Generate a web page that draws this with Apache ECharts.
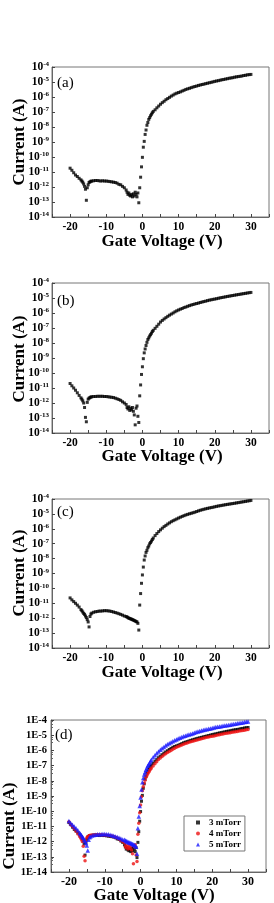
<!DOCTYPE html>
<html><head><meta charset="utf-8">
<script src="https://cdn.jsdelivr.net/npm/echarts@6/dist/echarts.min.js"></script>
<style>html,body{margin:0;padding:0;background:#fff}#c{width:274px;height:903px}</style>
</head><body><div id="c"></div>
<script>
const gateVoltage = [
-20,-19.5,-19,-18.5,-18,-17.5,-17,
-16.75,-16.5,-16.25,-16,-15.75,-15.5,-15.25,-15,-14.75,-14.5,-14.25,-14,
-13.5,-13,-12.5,-12,-11.5,-11,-10.5,-10,-9.5,-9,-8.5,-8,-7.5,-7,-6.5,-6,-5.5,-5,-4.5,
-4.25,-4,-3.75,-3.5,-3.25,-3,-2.75,-2.5,-2.25,-2,-1.75,-1.5,-1.25,-1,-0.75,-0.5,-0.25,0,0.25,0.5,0.75,1,1.25,1.5,1.75,2,2.25,2.5,2.75,3,
3.5,4,4.5,5,5.5,6,6.5,7,7.5,8,8.5,9,9.5,10,10.5,11,11.5,12,12.5,13,13.5,14,14.5,15,15.5,16,16.5,17,17.5,18,18.5,19,19.5,20,20.5,21,21.5,22,22.5,23,23.5,24,24.5,25,25.5,26,26.5,27,27.5,28,28.5,29,29.5,30
];
const current3mTorr = [
1.8e-11,1.3e-11,8.9e-12,6.3e-12,5.0e-12,3.8e-12,3.0e-12,
2.5e-12,2.1e-12,1.6e-12,1.1e-12,7.1e-13,1.3e-13,8.9e-13,1.4e-12,2.0e-12,2.2e-12,2.4e-12,2.5e-12,
2.6e-12,2.7e-12,2.7e-12,2.6e-12,2.5e-12,2.6e-12,2.5e-12,2.5e-12,2.4e-12,2.3e-12,2.2e-12,2.1e-12,2.0e-12,1.8e-12,1.5e-12,1.4e-12,1.1e-12,8.9e-13,6.3e-13,
4.5e-13,3.2e-13,4.0e-13,2.8e-13,2.5e-13,3.2e-13,2.2e-13,3.5e-13,2.5e-13,4.5e-13,3.2e-13,2.2e-13,4.0e-13,8.9e-14,8.9e-13,4.5e-12,2.2e-11,9.5e-11,4.5e-10,1.1e-9,3.2e-9,6.3e-9,1.3e-8,2.0e-8,3.2e-8,4.2e-8,5.6e-8,7.1e-8,8.9e-8,1.1e-7,
1.4e-7,1.9e-7,2.5e-7,3.3e-7,4.2e-7,5.2e-7,6.6e-7,7.9e-7,9.5e-7,1.15e-6,1.35e-6,1.6e-6,1.8e-6,2.0e-6,2.2e-6,2.5e-6,2.8e-6,3.2e-6,3.5e-6,3.8e-6,4.2e-6,4.6e-6,5.0e-6,5.4e-6,5.9e-6,6.3e-6,6.8e-6,7.2e-6,7.8e-6,8.3e-6,8.9e-6,9.5e-6,1.02e-5,1.1e-5,1.17e-5,1.23e-5,1.32e-5,1.41e-5,1.48e-5,1.58e-5,1.66e-5,1.78e-5,1.86e-5,1.95e-5,2.1e-5,2.2e-5,2.3e-5,2.4e-5,2.5e-5,2.7e-5,2.8e-5,3.0e-5,3.1e-5,3.2e-5
];
const current4mTorr = [
2.0e-11,1.4e-11,1.0e-11,7.1e-12,4.8e-12,3.2e-12,2.2e-12,
1.8e-12,1.4e-12,1.0e-12,5.0e-13,1.1e-13,5.6e-14,1.1e-12,1.8e-12,2.1e-12,2.3e-12,2.5e-12,2.6e-12,
2.7e-12,2.7e-12,2.8e-12,2.8e-12,2.8e-12,2.8e-12,2.7e-12,2.7e-12,2.6e-12,2.5e-12,2.4e-12,2.3e-12,2.1e-12,1.9e-12,1.7e-12,1.5e-12,1.2e-12,1.0e-12,8.0e-13,
5.0e-13,4.0e-13,5.6e-13,3.2e-13,4.5e-13,3.5e-13,5.0e-13,2.8e-13,1.6e-13,3.5e-14,4.5e-13,6.3e-13,1.3e-13,5.0e-14,3.0e-12,1.6e-11,8.0e-11,2.6e-10,9.0e-10,2.2e-9,4.0e-9,6.8e-9,1.1e-8,1.7e-8,2.2e-8,2.9e-8,3.6e-8,4.5e-8,5.8e-8,7.0e-8,
9.5e-8,1.3e-7,1.8e-7,2.5e-7,3.2e-7,4.0e-7,4.9e-7,6.0e-7,7.2e-7,8.5e-7,1.0e-6,1.2e-6,1.4e-6,1.6e-6,1.8e-6,2.0e-6,2.3e-6,2.5e-6,2.8e-6,3.1e-6,3.4e-6,3.7e-6,4.0e-6,4.3e-6,4.6e-6,5.0e-6,5.4e-6,5.8e-6,6.2e-6,6.7e-6,7.2e-6,7.6e-6,8.1e-6,8.5e-6,9.0e-6,9.6e-6,1.02e-5,1.08e-5,1.14e-5,1.2e-5,1.27e-5,1.33e-5,1.4e-5,1.47e-5,1.55e-5,1.62e-5,1.7e-5,1.78e-5,1.87e-5,1.96e-5,2.05e-5,2.15e-5,2.25e-5,2.35e-5
];
const current5mTorr = [
2.3e-11,1.7e-11,1.3e-11,1.0e-11,7.6e-12,5.6e-12,3.8e-12,
3.2e-12,2.6e-12,2.1e-12,1.8e-12,1.4e-12,1.1e-12,8.0e-13,5.6e-13,2.6e-13,1.3e-12,1.9e-12,2.2e-12,
2.5e-12,2.7e-12,2.8e-12,3.0e-12,3.0e-12,3.1e-12,3.2e-12,3.2e-12,3.1e-12,3.0e-12,2.8e-12,2.6e-12,2.4e-12,2.2e-12,2.0e-12,1.8e-12,1.6e-12,1.4e-12,1.3e-12,
1.2e-12,1.1e-12,1.0e-12,9.5e-13,9.0e-13,8.5e-13,8.0e-13,7.5e-13,7.0e-13,6.5e-13,6.0e-13,5.6e-13,4.5e-13,1.6e-13,7.6e-12,4.5e-11,2.2e-10,8.0e-10,2.7e-9,8.0e-9,1.5e-8,2.6e-8,3.6e-8,5.4e-8,7.0e-8,9.8e-8,1.2e-7,1.5e-7,1.9e-7,2.4e-7,
3.5e-7,4.8e-7,6.5e-7,8.5e-7,1.1e-6,1.4e-6,1.7e-6,2.1e-6,2.5e-6,3.0e-6,3.5e-6,4.0e-6,4.6e-6,5.3e-6,6.0e-6,6.8e-6,7.6e-6,8.5e-6,9.3e-6,1.02e-5,1.1e-5,1.2e-5,1.3e-5,1.45e-5,1.6e-5,1.75e-5,1.9e-5,2.05e-5,2.2e-5,2.35e-5,2.5e-5,2.65e-5,2.8e-5,3.0e-5,3.2e-5,3.4e-5,3.55e-5,3.75e-5,3.95e-5,4.15e-5,4.35e-5,4.55e-5,4.75e-5,4.95e-5,5.2e-5,5.45e-5,5.7e-5,6.0e-5,6.3e-5,6.6e-5,6.9e-5,7.3e-5,7.6e-5,8.0e-5
];
const seriesNames = ['3 mTorr', '4 mTorr', '5 mTorr'];
const panelLabels = ['(a)', '(b)', '(c)', '(d)'];
const xTitle = 'Gate Voltage (V)';
const yTitle = 'Current (A)';

const FONT = '"Liberation Serif", "Times New Roman", serif';
const panelData = [current3mTorr, current4mTorr, current5mTorr];
const toPairs = arr => gateVoltage.map((v, i) => [v, arr[i]]);

const grids = [
  {left: 52, top: 67, width: 217, height: 150},
  {left: 52, top: 283, width: 217, height: 150},
  {left: 52, top: 499, width: 217, height: 149},
  {left: 51, top: 720, width: 215, height: 152}
];

const xAxes = grids.map((g, i) => ({
  type: 'value', gridIndex: i, min: -25, max: 35, interval: 5,
  axisLine: {show: true, onZero: false, lineStyle: {color: '#666', width: 1}},
  axisTick: {show: true, inside: true, length: 3, lineStyle: {color: '#444'}},
  splitLine: {show: false},
  axisLabel: {
    margin: 4, color: '#000', fontFamily: FONT, fontWeight: 'bold', fontSize: i === 3 ? 12 : 11.5,
    formatter: v => (v % 10 === 0 ? String(v) : '')
  }
}));

const yAxes = grids.map((g, i) => ({
  type: 'log', logBase: 10, gridIndex: i, min: 1e-14, max: 1e-4, splitNumber: 10, interval: 1,
  axisLine: {show: true, onZero: false, lineStyle: {color: '#666', width: 1}},
  axisTick: {show: true, inside: true, length: 3, interval: 0, lineStyle: {color: '#444'}},
  minorTick: {show: i === 3, splitNumber: 4, length: 2, lineStyle: {color: '#666'}},
  splitLine: {show: false},
  axisLabel: i === 3 ? {
    interval: 0, hideOverlap: false,
    margin: 4, color: '#000', fontFamily: FONT, fontWeight: 'bold', fontSize: 10.5,
    formatter: v => '1E' + Math.round(Math.log10(v))
  } : {
    interval: 0, hideOverlap: false,
    margin: 3, color: '#000', fontFamily: FONT, fontWeight: 'bold', fontSize: 11,
    formatter: v => '{b|10}{s|' + Math.round(Math.log10(v)) + '}',
    rich: {
      b: {fontFamily: FONT, fontWeight: 'bold', fontSize: 11.5, lineHeight: 12, color: '#000'},
      s: {fontFamily: FONT, fontWeight: 'bold', fontSize: 7, lineHeight: 8, verticalAlign: 'top', color: '#000'}
    }
  }
}));

const series = [];
panelData.forEach((arr, i) => {
  series.push({
    type: 'scatter', name: 'panel' + i, xAxisIndex: i, yAxisIndex: i,
    data: toPairs(arr), symbol: 'rect', symbolSize: 3,
    itemStyle: {color: '#000'}, silent: true
  });
});
const dStyles = [
  {symbol: 'rect', symbolSize: 3, color: '#000'},
  {symbol: 'circle', symbolSize: 3.5, color: '#ee1111'},
  {symbol: 'triangle', symbolSize: 4.5, color: '#1a1aff'}
];
panelData.forEach((arr, k) => {
  series.push({
    type: 'scatter', name: seriesNames[k], xAxisIndex: 3, yAxisIndex: 3,
    data: toPairs(arr), symbol: dStyles[k].symbol, symbolSize: dStyles[k].symbolSize,
    itemStyle: {color: dStyles[k].color}, silent: true
  });
});

const titleFont = 'bold 17px ' + FONT;
const yTitlePos = [[20, 142], [20, 359], [20, 573], [10, 826]];
const xTitlePos = [[162, 242], [162, 457], [162, 673], [154, 896]];
const labelPos = [[57, 83], [57, 301], [57, 512], [55, 735]];
const graphic = [];
for (let i = 0; i < 4; i++) {
  graphic.push({type: 'text', x: yTitlePos[i][0], y: yTitlePos[i][1], rotation: Math.PI / 2,
    style: {text: yTitle, font: titleFont, fill: '#000', align: 'center', verticalAlign: 'middle'}});
  graphic.push({type: 'text', x: xTitlePos[i][0], y: xTitlePos[i][1],
    style: {text: xTitle, font: titleFont, fill: '#000', align: 'center', verticalAlign: 'middle'}});
  graphic.push({type: 'text', x: labelPos[i][0], y: labelPos[i][1],
    style: {text: panelLabels[i], font: '15px ' + FONT, fill: '#000', align: 'left', verticalAlign: 'middle'}});
}

const chart = echarts.init(document.getElementById('c'), null, {renderer: 'canvas'});
chart.setOption({
  animation: false,
  backgroundColor: '#fff',
  grid: grids.map(g => Object.assign({show: true, borderColor: '#777', borderWidth: 1, backgroundColor: 'transparent'}, g)),
  xAxis: xAxes,
  yAxis: yAxes,
  legend: {
    data: seriesNames, orient: 'vertical', left: 184, top: 816,
    itemWidth: 4, itemHeight: 4, itemGap: 2, padding: [2, 4, 2, 12],
    borderColor: '#777', borderWidth: 1, backgroundColor: '#fff',
    textStyle: {fontFamily: FONT, fontWeight: 'bold', fontSize: 9, lineHeight: 9, color: '#000', padding: [0, 0, 0, 4]}
  },
  graphic: graphic,
  series: series
});
</script>
</body></html>
